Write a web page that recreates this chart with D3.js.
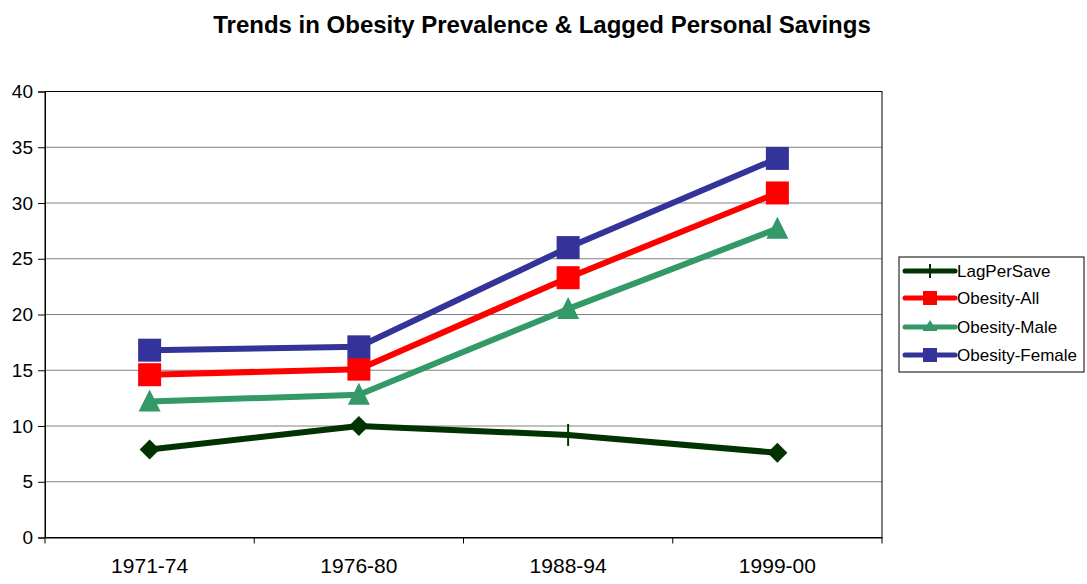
<!DOCTYPE html>
<html><head><meta charset="utf-8">
<script src="https://cdn.jsdelivr.net/npm/d3@7/dist/d3.min.js"></script>
<style>body{margin:0;background:#fff}svg{display:block}text{font-family:"Liberation Sans",Arial,sans-serif}</style>
</head><body><svg id="c" width="1087" height="584"></svg>
<script>
const categories = ["1971-74", "1976-80", "1988-94", "1999-00"];
const seriesNames = ["LagPerSave", "Obesity-All", "Obesity-Male", "Obesity-Female"];
const lagPerSave = [7.9, 10.0, 9.2, 7.6];
const obesityAll = [14.6, 15.1, 23.3, 30.9];
const obesityMale = [12.2, 12.8, 20.5, 27.7];
const obesityFemale = [16.8, 17.1, 26.0, 34.0];
const yTicks = [0, 5, 10, 15, 20, 25, 30, 35, 40];
const title = "Trends in Obesity Prevalence & Lagged Personal Savings";

const colors = ["#003300", "#FF0000", "#339966", "#333399"];
const markers = ["diamond", "square", "triangle", "square"];
const data = [lagPerSave, obesityAll, obesityMale, obesityFemale];
const lagMarkerKinds = ["diamond", "diamond", "dash", "diamond"];

const svg = d3.select("#c");
const L = 45, R = 882, T = 91.5, B = 537.5;
const x = d3.scaleBand().domain(categories).range([L, R]);
const y = d3.scaleLinear().domain([0, 40]).range([B, T]);

svg.append("text").attr("x", 542).attr("y", 33).attr("text-anchor", "middle")
  .attr("font-size", 24).attr("font-weight", "bold").text(title);

svg.append("g").selectAll("line").data(yTicks.filter(d => d > 0 && d < 40)).join("line")
  .attr("x1", L).attr("x2", R).attr("y1", d => y(d)).attr("y2", d => y(d))
  .attr("stroke", "#808080").attr("stroke-width", 1);

svg.append("rect").attr("x", L).attr("y", T).attr("width", R - L).attr("height", B - T)
  .attr("fill", "none").attr("stroke", "#000").attr("stroke-width", 1);

const ya = svg.append("g").attr("transform", `translate(${L},0)`)
  .call(d3.axisLeft(y).tickValues(yTicks).tickSize(7).tickPadding(5).tickFormat(d3.format("d")));
ya.attr("font-size", 19).attr("font-family", "Liberation Sans, Arial, sans-serif");
ya.select(".domain").attr("stroke", "#000");
ya.selectAll("text").attr("fill", "#000");

const xa = svg.append("g").attr("transform", `translate(0,${B})`)
  .call(d3.axisBottom(x).tickSize(0).tickPadding(21));
xa.attr("font-size", 21).attr("font-family", "Liberation Sans, Arial, sans-serif");
xa.select(".domain").attr("stroke", "#000");
xa.selectAll("text").attr("fill", "#000");
const bounds = categories.map(c => x(c)).concat([x(categories[categories.length - 1]) + x.bandwidth()]);
svg.append("g").selectAll("line").data(bounds).join("line")
  .attr("x1", d => d).attr("x2", d => d).attr("y1", B).attr("y2", B + 6)
  .attr("stroke", "#000");

const cx = c => x(c) + x.bandwidth() / 2;
const line = d3.line().x((d, i) => cx(categories[i])).y(d => y(d));

function drawMarker(g, kind, px, py, color) {
  if (kind === "square") {
    const s = 11.5;
    g.append("rect").attr("x", px - s).attr("y", py - s).attr("width", 2 * s).attr("height", 2 * s).attr("fill", color);
  } else if (kind === "triangle") {
    const s = 11;
    g.append("path").attr("d", `M${px},${py - s - 1}L${px + s},${py + s - 1}L${px - s},${py + s - 1}Z`).attr("fill", color);
  } else if (kind === "diamond") {
    const s = 10;
    g.append("path").attr("d", `M${px},${py - s}L${px + s},${py}L${px},${py + s}L${px - s},${py}Z`).attr("fill", color);
  } else if (kind === "dash") {
    g.append("line").attr("x1", px).attr("x2", px).attr("y1", py - 11).attr("y2", py + 11).attr("stroke", color).attr("stroke-width", 2);
  }
}

data.forEach((vals, si) => {
  const g = svg.append("g");
  g.append("path").datum(vals).attr("d", line).attr("fill", "none")
    .attr("stroke", colors[si]).attr("stroke-width", 6).attr("stroke-linejoin", "round");
  vals.forEach((v, i) => {
    const kind = si === 0 ? lagMarkerKinds[i] : markers[si];
    drawMarker(g, kind, cx(categories[i]), y(v), colors[si]);
  });
});

const lg = svg.append("g");
lg.append("rect").attr("x", 899).attr("y", 257).attr("width", 185).attr("height", 115)
  .attr("fill", "#fff").attr("stroke", "#000").attr("stroke-width", 1);
const rowY = [271, 298, 327, 355];
seriesNames.forEach((n, i) => {
  const yy = rowY[i];
  lg.append("line").attr("x1", 905).attr("x2", 955).attr("y1", yy).attr("y2", yy)
    .attr("stroke", colors[i]).attr("stroke-width", 5).attr("stroke-linecap", "round");
  if (i === 0) {
    lg.append("line").attr("x1", 930).attr("x2", 930).attr("y1", yy - 7).attr("y2", yy + 7).attr("stroke", colors[i]).attr("stroke-width", 2);
  } else if (i === 2) {
    lg.append("path").attr("d", `M930,${yy - 7}L937,${yy + 4}L923,${yy + 4}Z`).attr("fill", colors[i]);
    lg.append("rect").attr("x", 923).attr("y", yy - 2).attr("width", 14).attr("height", 6).attr("fill", colors[i]);
  } else {
    lg.append("rect").attr("x", 923).attr("y", yy - 7).attr("width", 14).attr("height", 14).attr("fill", colors[i]);
  }
  lg.append("text").attr("x", 957).attr("y", yy + 6).attr("font-size", 17).text(n);
});
</script></body></html>
